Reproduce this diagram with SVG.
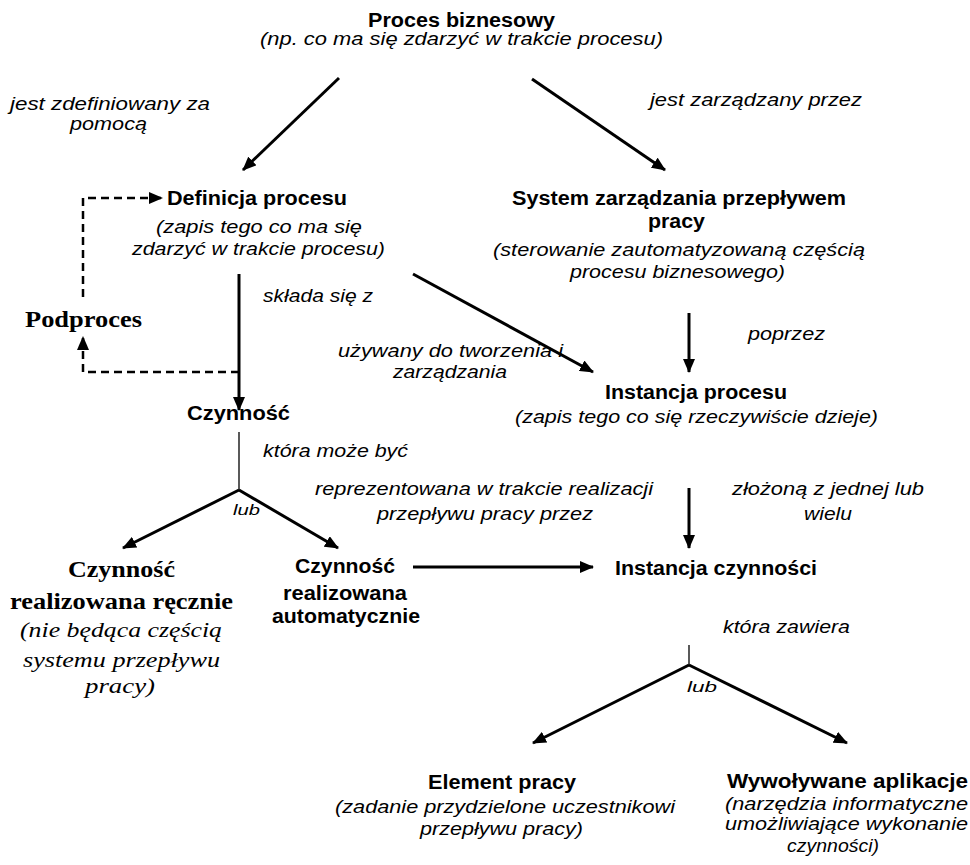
<svg xmlns="http://www.w3.org/2000/svg" width="970" height="865" viewBox="0 0 970 865">
  <style>
    text { fill: #000; }
    .hb { font-family: "Liberation Sans", Arial, sans-serif; font-weight: bold; font-size: 20px; }
    .hs { font-family: "Liberation Serif", "Times New Roman", serif; font-weight: bold; font-size: 23px; }
    .it { font-family: "Liberation Sans", Arial, sans-serif; font-style: italic; font-size: 18px; }
    .is { font-family: "Liberation Serif", "Times New Roman", serif; font-style: italic; font-size: 21px; }
    .sm { font-family: "Liberation Sans", Arial, sans-serif; font-style: italic; font-size: 15px; }
    .ln { fill: none; stroke: #000; stroke-width: 3; }
    .thin { fill: none; stroke: #000; stroke-width: 1.3; }
    .dash { fill: none; stroke: #000; stroke-width: 2.5; stroke-dasharray: 8 5; }
  </style>
  <defs>
    <marker id="ah" markerUnits="userSpaceOnUse" markerWidth="14" markerHeight="12" refX="13" refY="6" orient="auto">
      <path d="M0,0 L14,6 L0,12 z" fill="#000"/>
    </marker>
  </defs>

  <!-- connectors -->
  <g id="connectors">
    <line class="ln" x1="339" y1="78" x2="243" y2="170" marker-end="url(#ah)"/>
    <line class="ln" x1="532" y1="79" x2="665" y2="170" marker-end="url(#ah)"/>
    <polyline class="dash" points="83,297 83,198 162,198" marker-end="url(#ah)"/>
    <line class="ln" x1="239" y1="274" x2="239" y2="410" stroke-width="2" marker-end="url(#ah)"/>
    <polyline class="dash" points="239,372 83,372 83,337" marker-end="url(#ah)"/>
    <line class="ln" x1="413" y1="274" x2="593" y2="372" marker-end="url(#ah)"/>
    <line class="ln" x1="689" y1="313" x2="689" y2="372" marker-end="url(#ah)"/>
    <line class="thin" x1="239" y1="432" x2="239" y2="490"/>
    <line class="ln" x1="239" y1="490" x2="123" y2="548" marker-end="url(#ah)"/>
    <line class="ln" x1="239" y1="490" x2="338" y2="548" marker-end="url(#ah)"/>
    <line class="ln" x1="413" y1="567" x2="593" y2="567" marker-end="url(#ah)"/>
    <line class="ln" x1="689" y1="488" x2="689" y2="548" marker-end="url(#ah)"/>
    <line class="thin" x1="689" y1="645" x2="689" y2="665"/>
    <line class="ln" x1="689" y1="665" x2="533" y2="743" marker-end="url(#ah)"/>
    <line class="ln" x1="689" y1="665" x2="847" y2="743" marker-end="url(#ah)"/>
  </g>

  <!-- connector labels -->
  <g id="labels">
    <text class="it" x="10" y="110" textLength="200" lengthAdjust="spacingAndGlyphs">jest zdefiniowany za</text>
    <text class="it" x="70" y="130" textLength="77" lengthAdjust="spacingAndGlyphs">pomocą</text>
    <text class="it" x="650" y="106" textLength="212" lengthAdjust="spacingAndGlyphs">jest zarządzany przez</text>
    <text class="it" x="263" y="302" textLength="110" lengthAdjust="spacingAndGlyphs">składa się z</text>
    <text class="it" x="338" y="357" textLength="225" lengthAdjust="spacingAndGlyphs">używany do tworzenia i</text>
    <text class="it" x="393" y="378" textLength="114" lengthAdjust="spacingAndGlyphs">zarządzania</text>
    <text class="it" x="748" y="340" textLength="77" lengthAdjust="spacingAndGlyphs">poprzez</text>
    <text class="it" x="263" y="457" textLength="145" lengthAdjust="spacingAndGlyphs">która może być</text>
    <text class="sm" x="233" y="515" textLength="27" lengthAdjust="spacingAndGlyphs">lub</text>
    <text class="it" x="315" y="495" textLength="338" lengthAdjust="spacingAndGlyphs">reprezentowana w trakcie realizacji</text>
    <text class="it" x="377" y="520" textLength="216" lengthAdjust="spacingAndGlyphs">przepływu pracy przez</text>
    <text class="it" x="732" y="495" textLength="192" lengthAdjust="spacingAndGlyphs">złożoną z jednej lub</text>
    <text class="it" x="804" y="520" textLength="48" lengthAdjust="spacingAndGlyphs">wielu</text>
    <text class="it" x="723" y="633" textLength="127" lengthAdjust="spacingAndGlyphs">która zawiera</text>
    <text class="sm" x="687" y="692" textLength="30" lengthAdjust="spacingAndGlyphs">lub</text>
  </g>

  <g id="proces-biznesowy">
    <text class="hb" x="368" y="27" font-size="19" textLength="187" lengthAdjust="spacingAndGlyphs">Proces biznesowy</text>
    <text class="it" x="260" y="45" textLength="403" lengthAdjust="spacingAndGlyphs">(np. co ma się zdarzyć  w trakcie procesu)</text>
  </g>

  <g id="definicja-procesu">
    <text class="hb" x="167" y="205" textLength="180" lengthAdjust="spacingAndGlyphs">Definicja procesu</text>
    <text class="it" x="156" y="233" textLength="206" lengthAdjust="spacingAndGlyphs">(zapis tego co ma się</text>
    <text class="it" x="132" y="255" textLength="253" lengthAdjust="spacingAndGlyphs">zdarzyć w trakcie procesu)</text>
  </g>

  <g id="system-zarzadzania">
    <text class="hb" x="512" y="205" textLength="334" lengthAdjust="spacingAndGlyphs">System zarządzania przepływem</text>
    <text class="hb" x="648" y="228" textLength="57" lengthAdjust="spacingAndGlyphs">pracy</text>
    <text class="it" x="493" y="256" textLength="372" lengthAdjust="spacingAndGlyphs">(sterowanie zautomatyzowaną częścią</text>
    <text class="it" x="570" y="278" textLength="215" lengthAdjust="spacingAndGlyphs">procesu biznesowego)</text>
  </g>

  <g id="podproces">
    <text class="hs" x="25" y="327" textLength="117" lengthAdjust="spacingAndGlyphs">Podproces</text>
  </g>

  <g id="instancja-procesu">
    <text class="hb" x="605" y="399" textLength="182" lengthAdjust="spacingAndGlyphs">Instancja procesu</text>
    <text class="it" x="515" y="423" textLength="363" lengthAdjust="spacingAndGlyphs">(zapis tego co się rzeczywiście dzieje)</text>
  </g>

  <g id="czynnosc">
    <text class="hb" x="187" y="420" textLength="103" lengthAdjust="spacingAndGlyphs">Czynność</text>
  </g>

  <g id="czynnosc-reczna">
    <text class="hs" x="68" y="577" textLength="107" lengthAdjust="spacingAndGlyphs">Czynność</text>
    <text class="hs" x="10" y="609" textLength="223" lengthAdjust="spacingAndGlyphs">realizowana ręcznie</text>
    <text class="is" x="20" y="637" textLength="202" lengthAdjust="spacingAndGlyphs">(nie będąca częścią</text>
    <text class="is" x="23" y="667" textLength="197" lengthAdjust="spacingAndGlyphs">systemu przepływu</text>
    <text class="is" x="85" y="693" textLength="70" lengthAdjust="spacingAndGlyphs">pracy)</text>
  </g>

  <g id="czynnosc-automatyczna">
    <text class="hb" x="295" y="573" textLength="100" lengthAdjust="spacingAndGlyphs">Czynność</text>
    <text class="hb" x="283" y="600" textLength="124" lengthAdjust="spacingAndGlyphs">realizowana</text>
    <text class="hb" x="272" y="623" textLength="148" lengthAdjust="spacingAndGlyphs">automatycznie</text>
  </g>

  <g id="instancja-czynnosci">
    <text class="hb" x="615" y="575" textLength="202" lengthAdjust="spacingAndGlyphs">Instancja czynności</text>
  </g>

  <g id="element-pracy">
    <text class="hb" x="428" y="789" textLength="148" lengthAdjust="spacingAndGlyphs">Element pracy</text>
    <text class="it" x="335" y="813" textLength="340" lengthAdjust="spacingAndGlyphs">(zadanie przydzielone uczestnikowi</text>
    <text class="it" x="420" y="835" textLength="163" lengthAdjust="spacingAndGlyphs">przepływu pracy)</text>
  </g>

  <g id="wywolywane-aplikacje">
    <text class="hb" x="727" y="788" textLength="241" lengthAdjust="spacingAndGlyphs">Wywoływane aplikacje</text>
    <text class="it" x="725" y="810" textLength="243" lengthAdjust="spacingAndGlyphs">(narzędzia informatyczne</text>
    <text class="it" x="725" y="830" textLength="243" lengthAdjust="spacingAndGlyphs">umożliwiające wykonanie</text>
    <text class="it" x="787" y="852" textLength="92" lengthAdjust="spacingAndGlyphs">czynności)</text>
  </g>
</svg>
